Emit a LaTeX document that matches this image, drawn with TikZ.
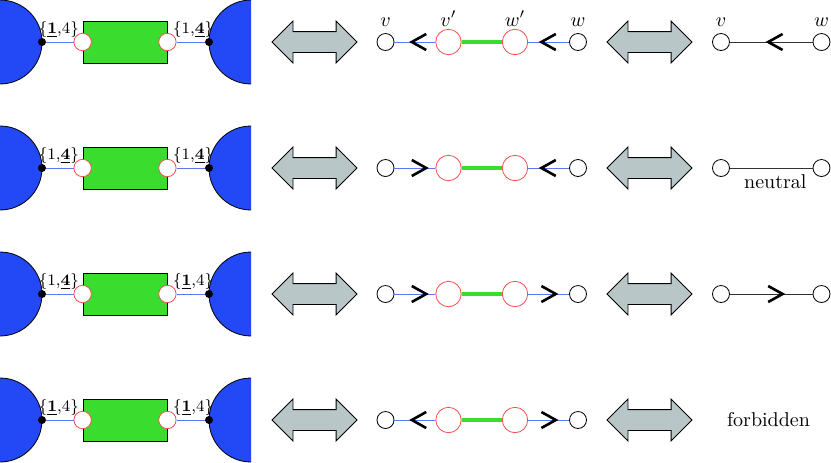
\documentclass[tikz,border=0pt]{standalone}
\usepackage{tikz}
\usetikzlibrary{positioning, shapes, arrows.meta}
\usetikzlibrary{decorations.markings}
\usepackage{amsmath}
\usepackage{xcolor}

\definecolor{blobblue}{RGB}{35,72,245}
\definecolor{gluegreen}{RGB}{58,221,46}
\definecolor{portred}{RGB}{240,80,80}
\definecolor{wireblue}{RGB}{90,120,240}
\definecolor{swapgray}{RGB}{185,198,200}

\begin{document}
\begin{tikzpicture}[
  x=0.5pt, y=-0.5pt,
  blob/.style={fill=blobblue, draw=black, thin},
  box/.style={rectangle, draw=black, thin, fill=gluegreen, minimum width=42pt, minimum height=21pt, inner sep=0pt},
  dot/.style={circle, fill=black, minimum size=4pt, inner sep=0pt},
  port/.style={circle, draw=portred, fill=white, thin, minimum size=8.7pt, inner sep=0pt},
  vert/.style={circle, draw=black, fill=white, thin, minimum size=8.5pt, inner sep=0pt},
  vport/.style={circle, draw=portred, fill=white, thin, minimum size=12.7pt, inner sep=0pt},
  swap/.style={double arrow, draw=black, thin, fill=swapgray, minimum height=42.5pt, double arrow head extend=5.25pt, inner xsep=0pt, inner ysep=5pt},
  wire/.style={draw=wireblue, thin},
  glue/.style={draw=gluegreen, line width=2.1pt},
  edge/.style={draw=black!80, thin},
  tag/.style={inner sep=0pt, font=\footnotesize},
  chev/.style={draw=black, line width=1.3pt},
  tipfwd/.style={postaction={decorate, decoration={markings, mark=at position #1 with {\draw[chev] (-3.6pt,4pt) -- (3.6pt,0pt) -- (-3.6pt,-4pt);}}}},
  tipfwd/.default=0.5,
  tipbwd/.style={postaction={decorate, decoration={markings, mark=at position #1 with {\draw[chev] (3.6pt,4pt) -- (-3.6pt,0pt) -- (3.6pt,-4pt);}}}},
  tipbwd/.default=0.5
]
\useasboundingbox (0,0) rectangle (831,462);

% === RIGA 1 ===
\filldraw[blob] (0,0) arc[start angle=90, end angle=-90, radius=21pt];
\filldraw[blob] (251,0) arc[start angle=90, end angle=270, radius=21pt];
\node[box] (box1) at (125,42) {};
\node[dot] (da1) at (42,42) {};
\node[dot] (db1) at (209,42) {};
\node[port] (pa1) at (box1.west) {};
\node[port] (pb1) at (box1.east) {};
\draw[wire] (da1) -- (pa1);
\draw[wire] (pb1) -- (db1);
\node[tag, above left=-1.1pt and -1.6pt of pa1] (ta1) {$\{\underline{\mathbf{1}}{,}4\}$};
\node[tag, above right=-1.1pt and -0.6pt of pb1] (tb1) {$\{1{,}\underline{\mathbf{4}}\}$};

\node[swap] (sa1) at (314.5,42) {};
\node[vert] (v1) at (385.5,42) {};
\node[vport] (vp1) at (448.5,42) {};
\node[vport] (wp1) at (515,42) {};
\node[vert] (w1) at (578,42) {};
\draw[wire, tipbwd=0.6] (v1) -- (vp1);
\draw[glue] (vp1) -- (wp1);
\draw[wire, tipbwd] (wp1) -- (w1);
\node[above=0pt of v1] (lv) {$v$};
\node[above=-2.15pt of vp1] (lvp) {$v'$};
\node[above=-2.15pt of wp1] (lwp) {$w'$};
\node[above=0pt of w1] (lw) {$w$};

\node[swap] (sb1) at (649.5,42) {};
\node[vert] (rv1) at (721,42) {};
\node[vert] (rw1) at (821.5,42) {};
\draw[edge, tipbwd=0.55] (rv1) -- (rw1);
\node[above=0pt of rv1] (lrv) {$v$};
\node[above=0pt of rw1] (lrw) {$w$};

% === RIGA 2 ===
\filldraw[blob] (0,126) arc[start angle=90, end angle=-90, radius=21pt];
\filldraw[blob] (251,126) arc[start angle=90, end angle=270, radius=21pt];
\node[box] (box2) at (125,168) {};
\node[dot] (da2) at (42,168) {};
\node[dot] (db2) at (209,168) {};
\node[port] (pa2) at (box2.west) {};
\node[port] (pb2) at (box2.east) {};
\draw[wire] (da2) -- (pa2);
\draw[wire] (pb2) -- (db2);
\node[tag, above left=-1.1pt and -1.6pt of pa2] (ta2) {$\{1{,}\underline{\mathbf{4}}\}$};
\node[tag, above right=-1.1pt and -0.6pt of pb2] (tb2) {$\{1{,}\underline{\mathbf{4}}\}$};

\node[swap] (sa2) at (314.5,168) {};
\node[vert] (v2) at (385.5,168) {};
\node[vport] (vp2) at (448.5,168) {};
\node[vport] (wp2) at (515,168) {};
\node[vert] (w2) at (578,168) {};
\draw[wire, tipfwd=0.6] (v2) -- (vp2);
\draw[glue] (vp2) -- (wp2);
\draw[wire, tipbwd] (wp2) -- (w2);

\node[swap] (sb2) at (649.5,168) {};
\node[vert] (rv2) at (721,168) {};
\node[vert] (rw2) at (821.5,168) {};
\draw[edge] (rv2) -- node[below, pos=0.55] {neutral} (rw2);

% === RIGA 3 ===
\filldraw[blob] (0,252) arc[start angle=90, end angle=-90, radius=21pt];
\filldraw[blob] (251,252) arc[start angle=90, end angle=270, radius=21pt];
\node[box] (box3) at (125,294) {};
\node[dot] (da3) at (42,294) {};
\node[dot] (db3) at (209,294) {};
\node[port] (pa3) at (box3.west) {};
\node[port] (pb3) at (box3.east) {};
\draw[wire] (da3) -- (pa3);
\draw[wire] (pb3) -- (db3);
\node[tag, above left=-1.1pt and -1.6pt of pa3] (ta3) {$\{1{,}\underline{\mathbf{4}}\}$};
\node[tag, above right=-1.1pt and -0.6pt of pb3] (tb3) {$\{\underline{\mathbf{1}}{,}4\}$};

\node[swap] (sa3) at (314.5,294) {};
\node[vert] (v3) at (385.5,294) {};
\node[vport] (vp3) at (448.5,294) {};
\node[vport] (wp3) at (515,294) {};
\node[vert] (w3) at (578,294) {};
\draw[wire, tipfwd=0.6] (v3) -- (vp3);
\draw[glue] (vp3) -- (wp3);
\draw[wire, tipfwd] (wp3) -- (w3);

\node[swap] (sb3) at (649.5,294) {};
\node[vert] (rv3) at (721,294) {};
\node[vert] (rw3) at (821.5,294) {};
\draw[edge, tipfwd=0.55] (rv3) -- (rw3);

% === RIGA 4 ===
\filldraw[blob] (0,378) arc[start angle=90, end angle=-90, radius=21pt];
\filldraw[blob] (251,378) arc[start angle=90, end angle=270, radius=21pt];
\node[box] (box4) at (125,420) {};
\node[dot] (da4) at (42,420) {};
\node[dot] (db4) at (209,420) {};
\node[port] (pa4) at (box4.west) {};
\node[port] (pb4) at (box4.east) {};
\draw[wire] (da4) -- (pa4);
\draw[wire] (pb4) -- (db4);
\node[tag, above left=-1.1pt and -1.6pt of pa4] (ta4) {$\{\underline{\mathbf{1}}{,}4\}$};
\node[tag, above right=-1.1pt and -0.6pt of pb4] (tb4) {$\{\underline{\mathbf{1}}{,}4\}$};

\node[swap] (sa4) at (314.5,420) {};
\node[vert] (v4) at (385.5,420) {};
\node[vport] (vp4) at (448.5,420) {};
\node[vport] (wp4) at (515,420) {};
\node[vert] (w4) at (578,420) {};
\draw[wire, tipbwd=0.6] (v4) -- (vp4);
\draw[glue] (vp4) -- (wp4);
\draw[wire, tipfwd] (wp4) -- (w4);

\node[swap] (sb4) at (649.5,420) {};
\node (forb) at (768.5,420) {forbidden};

\end{tikzpicture}
\end{document}
